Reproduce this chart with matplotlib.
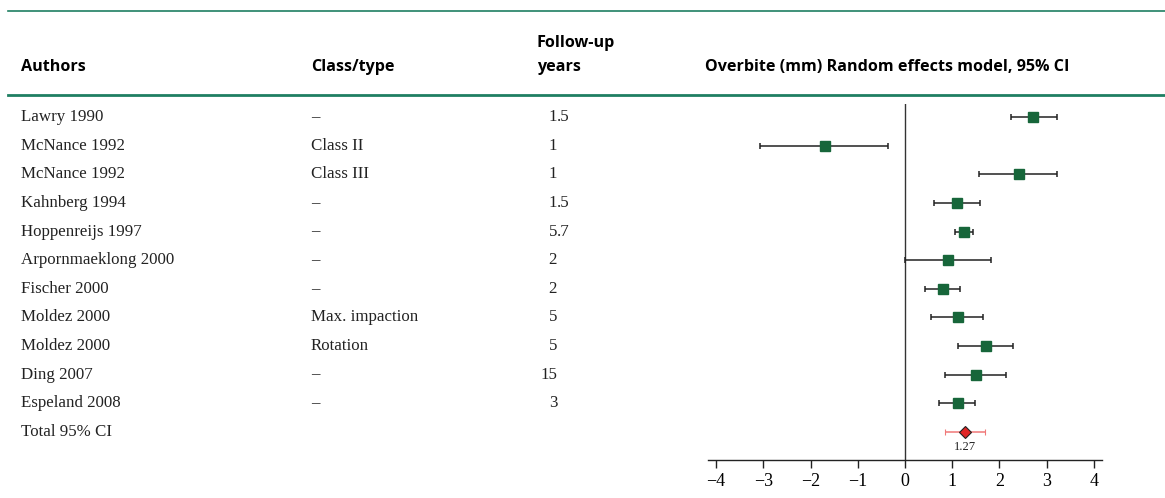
import matplotlib.pyplot as plt
import matplotlib.transforms as mtransforms
from matplotlib.lines import Line2D

# study rows
authors = ['Lawry 1990', 'McNance 1992', 'McNance 1992', 'Kahnberg 1994', 'Hoppenreijs 1997',
           'Arpornmaeklong 2000', 'Fischer 2000', 'Moldez 2000', 'Moldez 2000', 'Ding 2007',
           'Espeland 2008']
class_type = ['\u2013', 'Class II', 'Class III', '\u2013', '\u2013', '\u2013', '\u2013',
              'Max. impaction', 'Rotation', '\u2013', '\u2013']
followup = ['1.5', '1', '1', '1.5', '5.7', '2', '2', '5', '5', '15', '3']

# overbite (mm) effect and 95% CI
effect = [2.71, -1.69, 2.42, 1.10, 1.25, 0.91, 0.81, 1.12, 1.71, 1.50, 1.12]
ci_low = [2.24, -3.07, 1.57, 0.61, 1.06, 0.00, 0.43, 0.54, 1.12, 0.85, 0.71]
ci_high = [3.21, -0.36, 3.21, 1.58, 1.43, 1.83, 1.17, 1.65, 2.29, 2.13, 1.49]

total_label = 'Total 95% CI'
total_effect = 1.27
total_low = 0.84
total_high = 1.69

ticks = [-4, -3, -2, -1, 0, 1, 2, 3, 4]

W, H = 1165, 498
fig = plt.figure(figsize=(W / 100, H / 100), dpi=100)

serif = 'Liberation Serif'
sans = 'Open Sans'
green_line = '#1f7f62'
box_green = '#17663a'
body_size = 12.2
head_size = 11.6

# forest plot axes (pixel layout converted to figure fractions)
ax = fig.add_axes([708 / W, 1 - 460 / H, (1102 - 708) / W, (460 - 104) / H])
ax.set_xlim(-4.17, 4.17)
ax.set_ylim(11.99, -0.465)

rows = list(range(len(authors)))
for i in rows:
    ax.errorbar(effect[i], i, xerr=[[effect[i] - ci_low[i]], [ci_high[i] - effect[i]]],
                fmt='s', color=box_green, ecolor='#222222', elinewidth=1.1,
                capsize=2.3, capthick=1.1, markersize=7.4, zorder=3)

t = len(authors)
ax.errorbar(total_effect, t, xerr=[[total_effect - total_low], [total_high - total_effect]],
            fmt='D', color='#e02626', markeredgecolor='#222222', markeredgewidth=0.8,
            ecolor='#f07878', elinewidth=1.1, capsize=2.3, capthick=1.1,
            markersize=6.5, zorder=3)
ax.text(total_effect, t + 0.55, f'{total_effect:.2f}', ha='center', va='center',
        fontsize=9, family=serif, color='#222222')

ax.axvline(0, color='#333333', lw=1.0, zorder=1)

for s in ['top', 'right', 'left']:
    ax.spines[s].set_visible(False)
ax.spines['bottom'].set_linewidth(1.0)
ax.spines['bottom'].set_color('#222222')
ax.set_yticks([])
ax.set_xticks(ticks)
ax.set_xticklabels([str(v).replace('-', '\u2212') for v in ticks], family=serif, fontsize=13)
ax.tick_params(axis='x', direction='out', length=6, width=1.0, color='#222222', pad=3)

# table columns aligned with forest rows
trans = mtransforms.blended_transform_factory(fig.transFigure, ax.transData)
x_auth, x_class, x_dec = 21 / W, 311 / W, 557 / W
for i in rows:
    ax.text(x_auth, i, authors[i], transform=trans, ha='left', va='center',
            family=serif, fontsize=body_size, color='#222222')
    ax.text(x_class, i, class_type[i], transform=trans, ha='left', va='center',
            family=serif, fontsize=body_size, color='#222222')
    whole, _, frac = followup[i].partition('.')
    ax.text(x_dec, i, whole, transform=trans, ha='right', va='center',
            family=serif, fontsize=body_size, color='#222222')
    if frac:
        ax.text(x_dec, i, '.' + frac, transform=trans, ha='left', va='center',
                family=serif, fontsize=body_size, color='#222222')
ax.text(x_auth, t, total_label, transform=trans, ha='left', va='center',
        family=serif, fontsize=body_size, color='#222222')

# header
hy = 1 - 67 / H
fig.text(21 / W, hy, 'Authors', ha='left', va='center', family=sans, weight='bold', fontsize=head_size)
fig.text(311 / W, hy, 'Class/type', ha='left', va='center', family=sans, weight='bold', fontsize=head_size)
fig.text(537 / W, 1 - 43 / H, 'Follow-up', ha='left', va='center', family=sans, weight='bold', fontsize=head_size)
fig.text(537 / W, hy, 'years', ha='left', va='center', family=sans, weight='bold', fontsize=head_size)
fig.text(705 / W, hy, 'Overbite (mm) Random effects model, 95% CI', ha='left', va='center',
         family=sans, weight='bold', fontsize=head_size)

fig.add_artist(Line2D([8 / W, 1], [1 - 11 / H] * 2, transform=fig.transFigure, color=green_line, lw=1.2))
fig.add_artist(Line2D([8 / W, 1], [1 - 95.5 / H] * 2, transform=fig.transFigure, color=green_line, lw=2.0))

fig.savefig('out.png', dpi=100)
